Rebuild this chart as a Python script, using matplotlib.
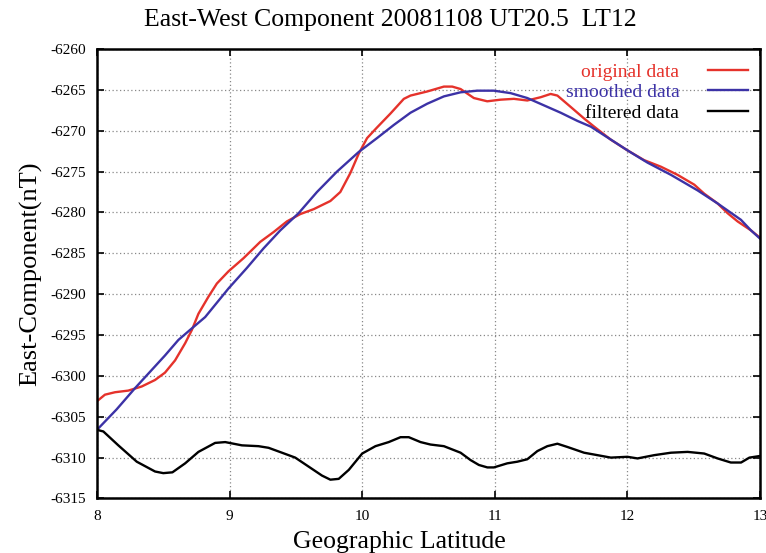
import numpy as np
import matplotlib
matplotlib.use("Agg")
import matplotlib.pyplot as plt

# valores
lat_orig = [8.0, 8.06, 8.136, 8.236, 8.337, 8.438, 8.513, 8.589, 8.665, 8.715, 8.765,
            8.841, 8.904, 8.992, 9.105, 9.231, 9.332, 9.432, 9.533, 9.634, 9.76, 9.835,
            9.91, 9.974, 10.037, 10.112, 10.213, 10.314, 10.364, 10.49, 10.616, 10.679,
            10.742, 10.842, 10.943, 11.044, 11.144, 11.245, 11.346, 11.421, 11.472,
            11.573, 11.673, 11.749, 11.875, 12.0, 12.126, 12.252, 12.378, 12.504,
            12.579, 12.68, 12.756, 12.831, 12.932, 13.0]
orig = [-6303.1, -6302.3, -6302.0, -6301.8, -6301.3, -6300.5, -6299.6, -6298.1, -6296.0,
        -6294.4, -6292.4, -6290.3, -6288.7, -6287.2, -6285.6, -6283.6, -6282.4, -6281.1,
        -6280.2, -6279.6, -6278.6, -6277.5, -6275.2, -6272.8, -6270.9, -6269.6, -6267.9,
        -6266.1, -6265.7, -6265.2, -6264.6, -6264.6, -6264.9, -6266.0, -6266.4, -6266.2,
        -6266.1, -6266.3, -6265.9, -6265.5, -6265.7, -6267.1, -6268.5, -6269.5, -6271.1,
        -6272.4, -6273.6, -6274.4, -6275.4, -6276.6, -6277.7, -6278.9, -6280.1, -6281.1,
        -6282.2, -6283.1]

lat_smooth = [8.0, 8.148, 8.287, 8.4, 8.513, 8.614, 8.7, 8.816, 8.992, 9.13, 9.256,
              9.382, 9.52, 9.659, 9.81, 9.974, 10.112, 10.238, 10.364, 10.49, 10.616,
              10.742, 10.868, 10.993, 11.119, 11.245, 11.371, 11.497, 11.623, 11.724,
              11.8, 12.0, 12.151, 12.328, 12.529, 12.68, 12.856, 12.932, 13.0]
smooth = [-6306.6, -6304.1, -6301.5, -6299.5, -6297.5, -6295.6, -6294.4, -6292.8, -6289.3,
          -6286.8, -6284.4, -6282.2, -6280.1, -6277.5, -6275.0, -6272.6, -6270.9, -6269.3,
          -6267.8, -6266.7, -6265.8, -6265.3, -6265.1, -6265.1, -6265.4, -6266.0, -6266.9,
          -6267.8, -6268.8, -6269.5, -6270.3, -6272.4, -6273.9, -6275.4, -6277.3, -6278.9,
          -6280.9, -6282.2, -6283.2]

lat_filt = [8.0, 8.048, 8.161, 8.30, 8.438, 8.50, 8.569, 8.665, 8.765, 8.891, 8.967,
            9.093, 9.218, 9.294, 9.395, 9.495, 9.596, 9.697, 9.76, 9.823, 9.899, 10.0,
            10.10, 10.20, 10.289, 10.351, 10.44, 10.515, 10.616, 10.742, 10.817, 10.88,
            10.944, 10.993, 11.094, 11.17, 11.245, 11.321, 11.396, 11.472, 11.548,
            11.673, 11.774, 11.875, 12.0, 12.076, 12.202, 12.328, 12.454, 12.579,
            12.68, 12.78, 12.857, 12.92, 13.0]
filt = [-6306.6, -6306.8, -6308.5, -6310.5, -6311.7, -6311.9, -6311.8, -6310.7, -6309.3,
        -6308.2, -6308.1, -6308.5, -6308.6, -6308.8, -6309.4, -6310.0, -6311.1, -6312.2,
        -6312.7, -6312.6, -6311.5, -6309.5, -6308.6, -6308.1, -6307.5, -6307.5, -6308.1,
        -6308.4, -6308.6, -6309.4, -6310.3, -6310.9, -6311.2, -6311.2, -6310.7, -6310.5,
        -6310.2, -6309.2, -6308.6, -6308.3, -6308.7, -6309.4, -6309.7, -6310.0, -6309.9,
        -6310.1, -6309.7, -6309.4, -6309.3, -6309.5, -6310.1, -6310.6, -6310.6, -6310.0,
        -6309.8]

x_ticks = [8, 9, 10, 11, 12, 13]
y_ticks = list(range(-6315, -6259, 5))

plt.rcParams['font.family'] = ['Liberation Serif', 'DejaVu Serif']
plt.rcParams['axes.unicode_minus'] = False

fig = plt.figure(figsize=(7.66, 5.53), dpi=100)
ax = fig.add_axes([0.1266, 0.0986, 0.8656, 0.8128])

ax.plot(lat_orig, orig, color="#e5322b", lw=1.7, label="original data")
ax.plot(lat_smooth, smooth, color="#3c32a6", lw=1.7, label="smoothed data")
ax.plot(lat_filt, filt, color="black", lw=1.7, label="filtered data")

ax.set_xlim(8, 13)
ax.set_ylim(-6315, -6260)
ax.set_xticks(x_ticks)
ax.set_yticks(y_ticks)
ax.tick_params(direction="in", top=True, right=True, length=5, width=1.2,
               labelsize=11, pad=8)
ax.grid(True, color="#888888", linestyle=(0, (1, 2)), lw=0.9)
for s in ax.spines.values():
    s.set_linewidth(1.8)

fig.text(0.509, 0.963, "East-West Component 20081108 UT20.5  LT12", fontsize=18.5,
         ha="center", va="center")
ax.set_xlabel("Geographic Latitude", fontsize=18.5)
ax.xaxis.set_label_coords(0.4555, -0.072)
ax.set_ylabel("East-Component(nT)", fontsize=19, labelpad=6)

leg = ax.legend(loc="upper right", bbox_to_anchor=(1.0, 0.995), frameon=False,
                markerfirst=False, labelcolor="linecolor", fontsize=14,
                handlelength=2.05, labelspacing=0.15, handletextpad=1.5,
                borderaxespad=0.2)
leg.get_texts()[2].set_color("black")

plt.savefig("out.png", dpi=100)
plt.close()
